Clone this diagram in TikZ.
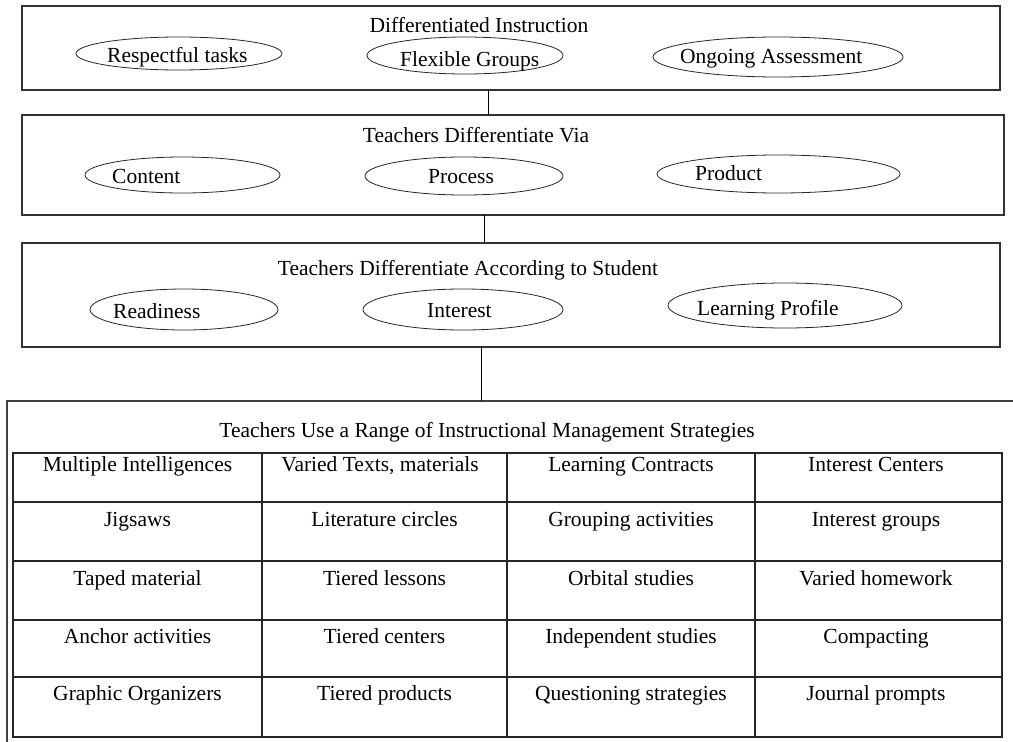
\documentclass[tikz,border=0pt]{standalone}
\usepackage{fontspec}
\setmainfont{Liberation Serif}
\usetikzlibrary{shapes.geometric}
\begin{document}
\begin{tikzpicture}[x=1pt,y=-1pt,
  frame/.style={draw=black!80, line width=1.4pt, inner sep=0pt, outer sep=0pt, anchor=north west},
  oval/.style={draw=black!85, ellipse, line width=0.8pt, inner sep=0pt},
  lbl/.style={font=\fontsize{21.5}{24}\selectfont, inner sep=0pt, anchor=base},
  lblw/.style={lbl, anchor=base west},
  conn/.style={draw=black, line width=1pt},
  grid/.style={draw=black!85, line width=1.3pt}]
\useasboundingbox[fill=white] (0,0) rectangle (1013,742);

% level boxes
\node[frame, minimum width=978pt, minimum height=84pt] (b1) at (22,6) {};
\node[frame, minimum width=982pt, minimum height=100pt] (b2) at (22,115) {};
\node[frame, minimum width=978pt, minimum height=104pt] (b3) at (22,243) {};
\node[frame, draw=black!75, minimum width=1040pt, minimum height=380pt] (b4) at (7,401) {};

% connectors
\coordinate (x1) at (488,0);
\coordinate (x2) at (484,0);
\coordinate (x3) at (481,0);
\draw[conn] (b1.south -| x1) -- (b2.north -| x1);
\draw[conn] (b2.south -| x2) -- (b3.north -| x2);
\draw[conn] (b3.south -| x3) -- (b4.north -| x3);

% titles
\node[lbl] (t1) at (479,32) {Differentiated Instruction};
\node[lbl] (t2) at (476,142) {Teachers Differentiate Via};
\node[lbl] (t3) at (468,275) {Teachers Differentiate According to Student};
\node[lbl] (t4) at (487,437) {Teachers Use a Range of Instructional Management Strategies};

% ellipses row 1
\node[oval, minimum width=206pt, minimum height=33pt] (e11) at (179,53.5) {};
\node[oval, minimum width=196pt, minimum height=37pt] (e12) at (465,55.5) {};
\node[oval, minimum width=250pt, minimum height=40pt] (e13) at (778,57) {};
\node[lblw] (l11) at (107,62) {Respectful tasks};
\node[lblw] (l12) at (400,66) {Flexible Groups};
\node[lblw] (l13) at (680,63) {Ongoing Assessment};

% ellipses row 2
\node[oval, minimum width=195pt, minimum height=36pt] (e21) at (182.5,175) {};
\node[oval, minimum width=198pt, minimum height=38pt] (e22) at (464,176) {};
\node[oval, minimum width=243pt, minimum height=38pt] (e23) at (778.5,174) {};
\node[lblw] (l21) at (112,183) {Content};
\node[lblw] (l22) at (428,183) {Process};
\node[lblw] (l23) at (695,180) {Product};

% ellipses row 3
\node[oval, minimum width=188pt, minimum height=41pt] (e31) at (184,309.5) {};
\node[oval, minimum width=200pt, minimum height=41pt] (e32) at (463,309.5) {};
\node[oval, minimum width=234pt, minimum height=45pt] (e33) at (785,305.5) {};
\node[lblw] (l31) at (113,318) {Readiness};
\node[lblw] (l32) at (427,317) {Interest};
\node[lblw] (l33) at (697,315) {Learning Profile};

% table grid
\draw[grid] (13,453) rectangle (1002,737);
\foreach \yy in {502,561,620,677} \draw[grid] (13,\yy) -- (1002,\yy);
\foreach \xx in {262,507,755} \draw[grid] (\xx,453) -- (\xx,737);

% table cells
\node[lbl] (c11) at (137.5,471) {Multiple Intelligences};
\node[lbl] (c12) at (380,471) {Varied Texts, materials};
\node[lbl] (c13) at (631,471) {Learning Contracts};
\node[lbl] (c14) at (876,471) {Interest Centers};

\node[lbl] (c21) at (137.5,526) {Jigsaws};
\node[lbl] (c22) at (384.5,526) {Literature circles};
\node[lbl] (c23) at (631,526) {Grouping activities};
\node[lbl] (c24) at (876,526) {Interest groups};

\node[lbl] (c31) at (137.5,585) {Taped material};
\node[lbl] (c32) at (384.5,585) {Tiered lessons};
\node[lbl] (c33) at (631,585) {Orbital studies};
\node[lbl] (c34) at (876,585) {Varied homework};

\node[lbl] (c41) at (137.5,643) {Anchor activities};
\node[lbl] (c42) at (384.5,643) {Tiered centers};
\node[lbl] (c43) at (631,643) {Independent studies};
\node[lbl] (c44) at (876,643) {Compacting};

\node[lbl] (c51) at (137.5,700) {Graphic Organizers};
\node[lbl] (c52) at (384.5,700) {Tiered products};
\node[lbl] (c53) at (631,700) {Questioning strategies};
\node[lbl] (c54) at (876,700) {Journal prompts};
\end{tikzpicture}
\end{document}
